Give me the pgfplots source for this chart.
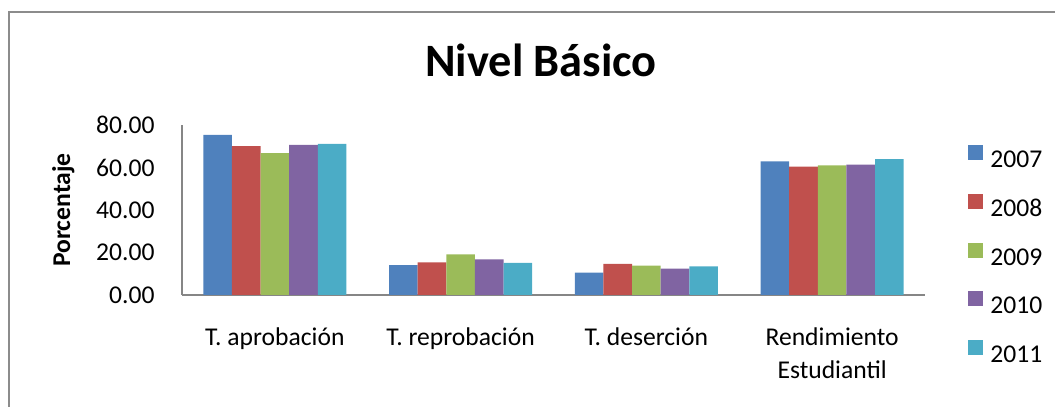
\documentclass[border=0pt]{standalone}
\usepackage{fontspec}
\setmainfont{Carlito}
\usepackage{pgfplots}
\pgfplotsset{compat=1.18}
\definecolor{c1}{HTML}{4F81BD}
\definecolor{c2}{HTML}{C0504D}
\definecolor{c3}{HTML}{9BBB59}
\definecolor{c4}{HTML}{8064A2}
\definecolor{c5}{HTML}{4BACC6}
\definecolor{axgray}{HTML}{868686}
\definecolor{framegray}{HTML}{8C8C8C}
\begin{document}
\begin{tikzpicture}
\path[use as bounding box] (0,0) rectangle (527.5pt,203.5pt);
\draw[line width=1.2pt, framegray] (4.5pt,0pt) -- (4.5pt,197.5pt) -- (527.5pt,197.5pt);
\node[font=\fontsize{23.2}{27}\selectfont\bfseries, anchor=base, inner sep=0pt] at (270.5pt,165pt) {Nivel Básico};
\node[font=\fontsize{12.8}{15}\selectfont\bfseries, rotate=90, anchor=base, inner sep=0pt] at (35pt,98.5pt) {Porcentaje};
\begin{axis}[
  at={(91pt,56pt)}, anchor=south west,
  scale only axis, width=371.5pt, height=85pt,
  xmin=-0.5, xmax=3.5, ymin=0, ymax=80,
  ytick={0,20,40,60,80},
  xtick={0,1,2,3},
  xticklabels={T. aprobación, T. reprobación, T. deserción, {Rendimiento\\Estudiantil}},
  ybar=0pt, bar width=14.3pt,
  axis x line*=bottom, axis y line*=left,
  axis line style={draw=axgray, line width=1pt, -},
  major tick length=0pt,
  tick style={draw=none},
  /pgf/number format/assume math mode=true,
  yticklabel={\pgfmathprintnumber[fixed, fixed zerofill, precision=2]{\tick}},
  yticklabel style={font=\fontsize{12.8}{15}\selectfont, anchor=east, inner sep=0pt, xshift=-13.5pt},
  xticklabel style={font=\fontsize{12.8}{16.5}\selectfont, align=center, anchor=north, inner sep=0pt, yshift=-16pt},
  legend style={at={(1.058,0.885)}, anchor=north west, draw=none, fill=none, inner sep=0pt,
    row sep=11.5pt, column sep=3.5pt, font=\fontsize{12.8}{15}\selectfont, nodes={inner sep=0pt}},
  legend cell align=left,
  legend image code/.code={\fill[#1] (0pt,0.4pt) rectangle (7.5pt,7.9pt);},
]
\addplot[fill=c1, draw=none] coordinates {(0,75.3) (1,14.1) (2,10.5) (3,62.9)};
\addplot[fill=c2, draw=none] coordinates {(0,70.1) (1,15.4) (2,14.6) (3,60.4)};
\addplot[fill=c3, draw=none] coordinates {(0,66.8) (1,19.1) (2,13.8) (3,61.0)};
\addplot[fill=c4, draw=none] coordinates {(0,70.7) (1,16.8) (2,12.4) (3,61.3)};
\addplot[fill=c5, draw=none] coordinates {(0,71.1) (1,15.1) (2,13.5) (3,63.9)};
\legend{2007,2008,2009,2010,2011}
\end{axis}
\end{tikzpicture}
\end{document}
